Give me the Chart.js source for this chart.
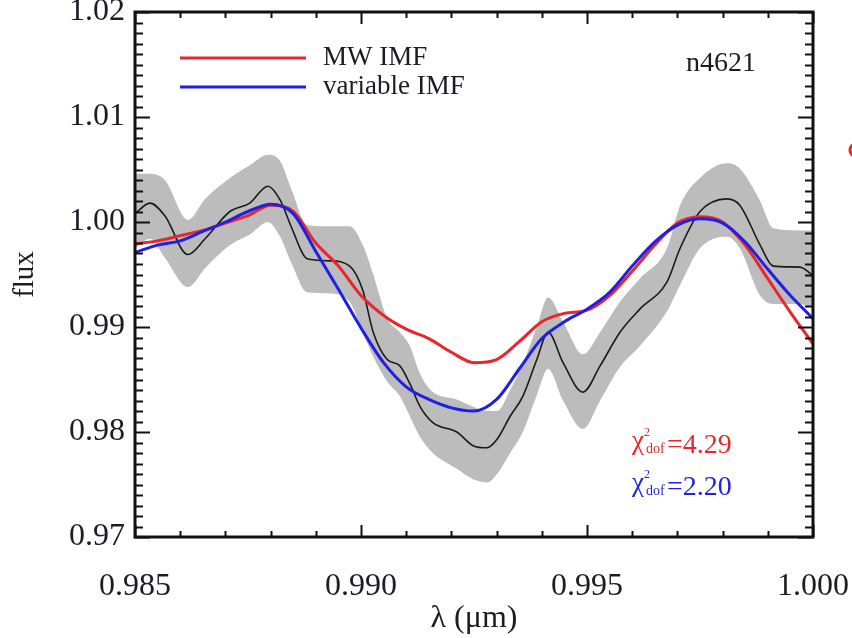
<!DOCTYPE html>
<html>
<head>
<meta charset="utf-8">
<script src="https://cdn.jsdelivr.net/npm/chart.js@4.4.0/dist/chart.umd.min.js"></script>
<style>
  html, body { margin: 0; padding: 0; background: #fff; }
  canvas { display: block; }
</style>
</head>
<body>
<canvas id="fluxChart" width="852" height="638"></canvas>
<script>
// observed spectrum (black) + grey error band
let obsWave = [0.98500, 0.98533, 0.98566, 0.98617, 0.98655, 0.98710, 0.98754, 0.98794, 0.98821, 0.98847,
  0.98881, 0.98931, 0.98975, 0.99004, 0.99027, 0.99058, 0.99086, 0.99108, 0.99131, 0.99159,
  0.99212, 0.99248, 0.99279, 0.99301, 0.99330, 0.99358, 0.99389, 0.99414, 0.99447, 0.99491,
  0.99529, 0.99573, 0.99617, 0.99677, 0.99706, 0.99750, 0.99810, 0.99838, 0.99883, 0.99912,
  0.99971, 1.00000];
let obsFlux = [1.0008, 1.0018, 1.0006, 0.9969, 0.9984, 1.0010, 1.0018, 1.0034, 1.0021, 0.9994,
  0.9965, 0.9963, 0.9958, 0.9935, 0.9895, 0.9869, 0.9863, 0.9846, 0.9824, 0.9809,
  0.9800, 0.9787, 0.9785, 0.9793, 0.9815, 0.9834, 0.9869, 0.9895, 0.9866, 0.9838,
  0.9863, 0.9895, 0.9917, 0.9943, 0.9975, 1.0010, 1.0022, 1.0016, 0.9978, 0.9958,
  0.9957, 0.9949];
let obsUpper = [1.0046, 1.0046, 1.0040, 1.0002, 1.0022, 1.0042, 1.0054, 1.0064, 1.0058, 1.0030,
  0.9997, 0.9996, 0.9996, 0.9978, 0.9950, 0.9908, 0.9895, 0.9882, 0.9855, 0.9838,
  0.9831, 0.9824, 0.9820, 0.9820, 0.9840, 0.9865, 0.9900, 0.9928, 0.9905, 0.9874,
  0.9895, 0.9924, 0.9946, 0.9975, 1.0016, 1.0042, 1.0056, 1.0051, 1.0020, 0.9994,
  0.9992, 0.9992];
let obsLower = [0.9975, 0.9984, 0.9966, 0.9938, 0.9956, 0.9978, 0.9988, 1.0000, 0.9986, 0.9960,
  0.9933, 0.9932, 0.9924, 0.9895, 0.9872, 0.9848, 0.9834, 0.9815, 0.9795, 0.9780,
  0.9765, 0.9755, 0.9752, 0.9760, 0.9780, 0.9800, 0.9835, 0.9860, 0.9830, 0.9803,
  0.9830, 0.9862, 0.9882, 0.9915, 0.9940, 0.9975, 0.9986, 0.9975, 0.9930, 0.9922,
  0.9922, 0.9918];

// model fits
let modelWave = [0.9850, 0.9855, 0.9860, 0.9865, 0.9870, 0.9875, 0.9880, 0.9885, 0.9890, 0.9895,
  0.9900, 0.9905, 0.9910, 0.9915, 0.9920, 0.9925, 0.9930, 0.9935, 0.9940, 0.9945,
  0.9950, 0.9955, 0.9960, 0.9965, 0.9970, 0.9975, 0.9980, 0.9985, 0.9990, 0.9995, 1.0000];
let mwFlux = [0.9979, 0.9982, 0.9987, 0.9992, 0.9999, 1.0006, 1.0016, 1.0010, 0.9980, 0.9958,
  0.9930, 0.9911, 0.9898, 0.9889, 0.9876, 0.9866, 0.9869, 0.9886, 0.9905, 0.9913,
  0.9916, 0.9930, 0.9953, 0.9978, 0.9999, 1.0005, 1.0000, 0.9978, 0.9946, 0.9914, 0.9884];
let varFlux = [0.9971, 0.9978, 0.9982, 0.9991, 1.0000, 1.0010, 1.0017, 1.0008, 0.9972, 0.9936,
  0.9899, 0.9866, 0.9843, 0.9831, 0.9823, 0.9820, 0.9831, 0.9860, 0.9889, 0.9905,
  0.9917, 0.9933, 0.9958, 0.9981, 0.9997, 1.0003, 0.9999, 0.9981, 0.9955, 0.9930, 0.9908];

let seriesNames = ['MW IMF', 'variable IMF'];
let chiValues = ['4.29', '2.20'];
let galaxyName = 'n4621';

let xTicks = [0.985, 0.990, 0.995, 1.000];
let yTicks = [0.97, 0.98, 0.99, 1.00, 1.01, 1.02];

const RED = '#e8262c';
const BLUE = '#1f1fe6';
const INK = '#1c1c26';
const SERIF = "'Liberation Serif', 'Times New Roman', serif";

function pts(xs, ys) {
  return xs.map((x, i) => ({ x: x, y: ys[i] }));
}

// frame with inward ticks on all sides, legend and labels
const decorations = {
  id: 'decorations',
  afterDatasetsDraw(chart) {
    const { ctx, chartArea: a, scales: { x, y } } = chart;
    ctx.save();
    ctx.strokeStyle = '#111';

    // x ticks (bottom + top), step 0.001
    ctx.lineWidth = 2;
    for (let i = 0; i <= 15; i++) {
      let v = 0.985 + i * 0.001;
      let px = Math.round(x.getPixelForValue(v)) + 0.5;
      let major = i % 5 === 0;
      let len = major ? 12 : 6;
      ctx.beginPath();
      ctx.moveTo(px, a.bottom); ctx.lineTo(px, a.bottom - len);
      ctx.moveTo(px, a.top); ctx.lineTo(px, a.top + len);
      ctx.stroke();
    }
    // y ticks (left + right), step 0.001
    for (let i = 0; i <= 50; i++) {
      let v = 0.97 + i * 0.001;
      let py = Math.round(y.getPixelForValue(v)) + 0.5;
      let major = i % 10 === 0;
      let len = major ? 15 : 8;
      ctx.beginPath();
      ctx.moveTo(a.left, py); ctx.lineTo(a.left + len, py);
      ctx.moveTo(a.right, py); ctx.lineTo(a.right - len, py);
      ctx.stroke();
    }
    ctx.lineWidth = 3;
    ctx.strokeRect(a.left, a.top, a.right - a.left, a.bottom - a.top);

    // legend
    const ds = chart.data.datasets;
    const legendRows = [ds[3], ds[4]];
    ctx.font = '27px ' + SERIF;
    ctx.textBaseline = 'middle';
    ctx.textAlign = 'left';
    legendRows.forEach((d, i) => {
      let ly = 58 + i * 29;
      ctx.strokeStyle = d.borderColor;
      ctx.lineWidth = 3;
      ctx.beginPath();
      ctx.moveTo(180, ly); ctx.lineTo(306, ly);
      ctx.stroke();
      ctx.fillStyle = INK;
      ctx.fillText(d.label, 323, ly);
    });

    // galaxy name
    ctx.font = '28px ' + SERIF;
    ctx.textAlign = 'center';
    ctx.fillText(galaxyName, 721, 64);

    // reduced chi-square values
    const chiColors = [RED, BLUE];
    chiValues.forEach((val, i) => {
      let bx = 632, by = 453 + i * 42;
      ctx.fillStyle = chiColors[i];
      ctx.textAlign = 'left';
      ctx.textBaseline = 'alphabetic';
      ctx.font = '27px ' + SERIF;
      ctx.fillText('\u03c7', bx, by - 4);
      ctx.font = '12px ' + SERIF;
      ctx.fillText('2', bx + 12, by - 17);
      ctx.font = '14px ' + SERIF;
      ctx.fillText('dof', bx + 14, by);
      ctx.font = '28px ' + SERIF;
      ctx.fillText('=' + val, bx + 35, by);
    });

    // small red mark at the right edge (neighbouring panel)
    ctx.strokeStyle = RED;
    ctx.lineWidth = 3;
    ctx.beginPath();
    ctx.arc(856, 150, 6, Math.PI * 0.6, Math.PI * 1.4);
    ctx.stroke();

    ctx.restore();
  }
};

const fixedAxes = {
  x: (scale) => { scale.height = 101; scale.paddingLeft = 0; scale.paddingRight = 0; },
  y: (scale) => { scale.width = 135; scale.paddingTop = 0; scale.paddingBottom = 0; }
};

const ctx = document.getElementById('fluxChart').getContext('2d');
const fluxChart = new Chart(ctx, {
  type: 'line',
  data: {
    datasets: [{
      label: 'error upper',
      data: pts(obsWave, obsUpper),
      order: 5,
      borderWidth: 0,
      backgroundColor: '#bcbcbc',
      fill: '+1',
      pointRadius: 0,
      cubicInterpolationMode: 'monotone'
    }, {
      label: 'error lower',
      data: pts(obsWave, obsLower),
      order: 6,
      borderWidth: 0,
      fill: false,
      pointRadius: 0,
      cubicInterpolationMode: 'monotone'
    }, {
      label: 'observed',
      data: pts(obsWave, obsFlux),
      order: 3,
      borderColor: '#1a1a1a',
      borderWidth: 1.6,
      fill: false,
      pointRadius: 0,
      cubicInterpolationMode: 'monotone'
    }, {
      label: seriesNames[0],
      data: pts(modelWave, mwFlux),
      order: 2,
      borderColor: RED,
      borderWidth: 3,
      fill: false,
      pointRadius: 0,
      cubicInterpolationMode: 'monotone'
    }, {
      label: seriesNames[1],
      data: pts(modelWave, varFlux),
      order: 1,
      borderColor: BLUE,
      borderWidth: 3,
      fill: false,
      pointRadius: 0,
      cubicInterpolationMode: 'monotone'
    }]
  },
  options: {
    responsive: false,
    animation: false,
    layout: { padding: { top: 12, right: 39, left: 0, bottom: 0 } },
    plugins: {
      legend: { display: false },
      tooltip: { enabled: false },
      filler: { drawTime: 'beforeDatasetsDraw' }
    },
    scales: {
      x: {
        type: 'linear',
        min: 0.985,
        max: 1.000,
        afterBuildTicks: (s) => { s.ticks = xTicks.map(v => ({ value: v })); },
        afterFit: fixedAxes.x,
        grid: { display: false, drawTicks: false },
        border: { display: false },
        ticks: {
          padding: 30,
          color: INK,
          font: { family: SERIF, size: 32 },
          maxRotation: 0,
          callback: (v) => v.toFixed(3)
        },
        title: {
          display: true,
          text: 'λ (μm)',
          color: INK,
          font: { family: SERIF, size: 32 },
          padding: { top: 0, bottom: 0 }
        }
      },
      y: {
        type: 'linear',
        min: 0.97,
        max: 1.02,
        afterBuildTicks: (s) => { s.ticks = yTicks.map(v => ({ value: v })); },
        afterFit: fixedAxes.y,
        grid: { display: false, drawTicks: false },
        border: { display: false },
        ticks: {
          padding: 10,
          color: INK,
          font: { family: SERIF, size: 32 },
          callback: (v) => v.toFixed(2)
        },
        title: {
          display: true,
          text: 'flux',
          color: INK,
          font: { family: SERIF, size: 29 },
          padding: { top: 8, bottom: 0 }
        }
      }
    }
  },
  plugins: [decorations]
});
</script>
</body>
</html>
